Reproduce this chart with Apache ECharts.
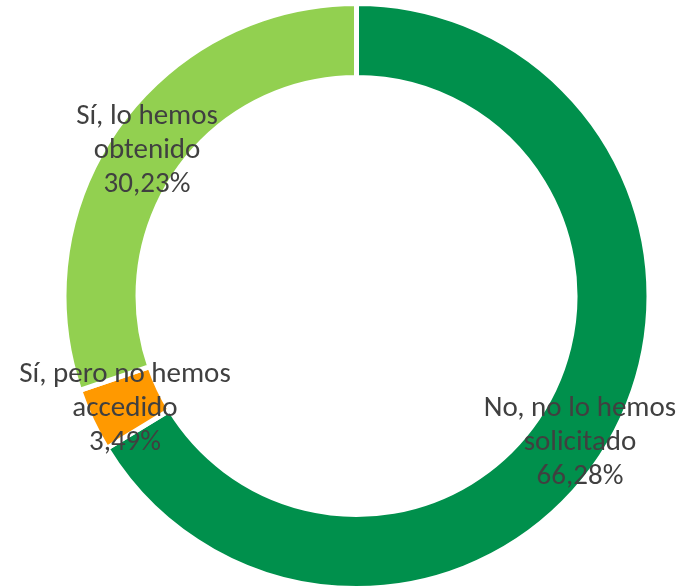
<!DOCTYPE html>
<html lang="es">
<head>
    <meta charset="UTF-8">
    <title>Donut</title>
    <style>
        html, body { margin: 0; padding: 0; background: #fff; }
    </style>
</head>
<body>
<div id="container" style="width: 680px; height: 588px;"></div>
<script type="text/javascript" src="https://cdn.jsdelivr.net/npm/echarts@6/dist/echarts.min.js"></script>
<script type="text/javascript">
    var categories = ['No, no lo hemos\nsolicitado', 'Sí, pero no hemos\naccedido', 'Sí, lo hemos\nobtenido'];
    var values = [66.28, 3.49, 30.23];
    var colors = ['#00904c', '#ff9900', '#92d050'];
    // where each label sits (centre of the text block)
    var labelPos = [[580, 443], [125, 409], [147, 151]];

    var pieData = [];
    for (var i = 0; i < categories.length; i++) {
        pieData.push({name: categories[i], value: values[i], itemStyle: {color: colors[i]}});
    }

    var option = {
        animation: false,
        series: [
            {
                type: 'pie',
                center: [356.5, 296],
                radius: [218.5, 292.5],
                startAngle: 90,
                clockwise: true,
                avoidLabelOverlap: false,
                itemStyle: {borderColor: '#ffffff', borderWidth: 5},
                label: {
                    show: true,
                    position: 'outside',
                    formatter: function (p) {
                        return p.name + '\n' + p.value.toFixed(2).replace('.', ',') + '%';
                    },
                    color: '#404040',
                    fontFamily: 'Carlito, "Liberation Sans", sans-serif',
                    fontSize: 29,
                    lineHeight: 34,
                    align: 'center'
                },
                labelLine: {show: false},
                labelLayout: function (params) {
                    var p = labelPos[params.dataIndex];
                    return {x: p[0], y: p[1], align: 'center', verticalAlign: 'middle'};
                },
                emphasis: {disabled: true},
                data: pieData
            }
        ]
    };

    var myChart = echarts.init(document.getElementById('container'));
    myChart.setOption(option);
</script>
</body>
</html>
